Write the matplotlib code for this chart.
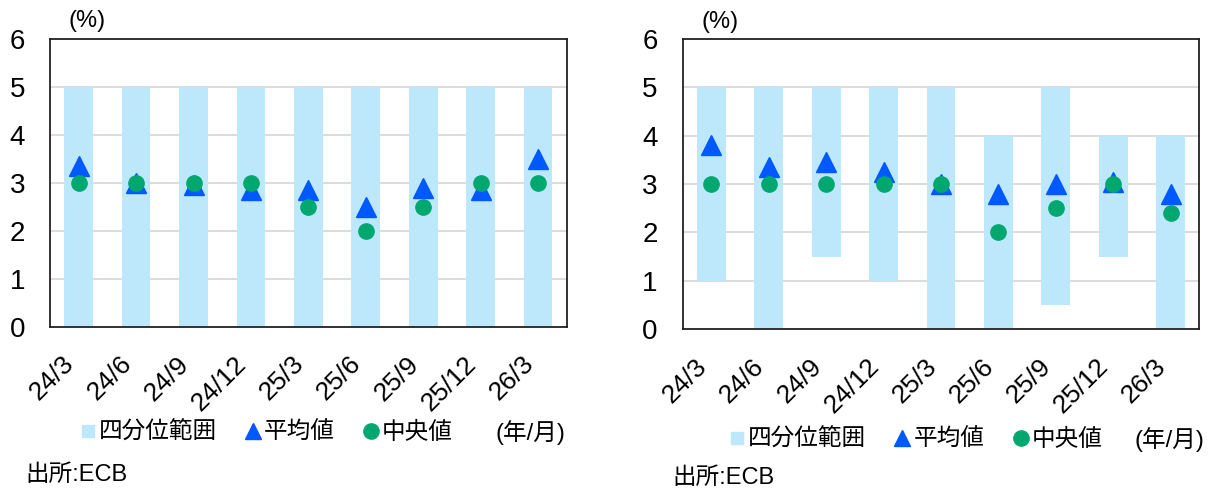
import matplotlib
matplotlib.use("Agg")
import matplotlib.pyplot as plt
from matplotlib.lines import Line2D

plt.rcParams['font.family'] = ['Liberation Sans', 'Noto Sans CJK JP']

# データ
labels = ['24/3', '24/6', '24/9', '24/12', '25/3', '25/6', '25/9', '25/12', '26/3']

left_q1 = [0, 0, 0, 0, 0, 0, 0, 0, 0]
left_q3 = [5, 5, 5, 5, 5, 5, 5, 5, 5]
left_mean = [3.35, 3.0, 2.95, 2.85, 2.85, 2.5, 2.9, 2.85, 3.5]
left_median = [3.0, 3.0, 3.0, 3.0, 2.5, 2.0, 2.5, 3.0, 3.0]

right_q1 = [1, 0, 1.5, 1, 0, 0, 0.5, 1.5, 0]
right_q3 = [5, 5, 5, 5, 5, 4, 5, 4, 4]
right_mean = [3.8, 3.35, 3.45, 3.25, 3.0, 2.8, 3.0, 3.05, 2.8]
right_median = [3.0, 3.0, 3.0, 3.0, 3.0, 2.0, 2.5, 3.0, 2.4]

BAR_C = '#bde7fb'
MEAN_C = '#0058ff'
MED_C = '#00a870'
FS = 17

W, H = 1211, 488
fig = plt.figure(figsize=(W / 100, H / 100), dpi=100)


def px(x0, y0, x1, y1):
    # ピクセル座標 -> figure座標
    return [x0 / W, 1 - y1 / H, (x1 - x0) / W, (y1 - y0) / H]


def draw(rect, q1, q3, mean, median):
    ax = fig.add_axes(rect)
    x = range(len(labels))
    heights = [b - a for a, b in zip(q1, q3)]
    ax.bar(x, heights, bottom=q1, width=0.5, color=BAR_C, zorder=2)
    ax.plot(x, mean, ls='none', marker='^', ms=14.5, color=MEAN_C, zorder=3)
    ax.plot(x, median, ls='none', marker='o', ms=11, color=MED_C, zorder=4)
    ax.set_xlim(-0.5, len(labels) - 0.5)
    ax.set_ylim(0, 6)
    ax.set_yticks(range(7))
    ax.set_xticks(list(x))
    ax.set_xticklabels(labels, rotation=45, ha='right', va='top', fontsize=19)
    ax.tick_params(axis='y', labelsize=20, length=0, pad=18)
    ax.tick_params(axis='x', length=0, pad=18)
    ax.grid(axis='y', color='#d9d9d9', lw=1.3, zorder=1)
    ax.set_axisbelow(True)
    for s in ax.spines.values():
        s.set_color('#222222')
        s.set_linewidth(1.3)
    return ax


draw(px(50, 39, 566.7, 326.7), left_q1, left_q3, left_mean, left_median)
draw(px(682.7, 38.7, 1199.3, 329.3), right_q1, right_q3, right_mean, right_median)

handles = [
    Line2D([], [], ls='none', marker='s', ms=8, color=BAR_C),
    Line2D([], [], ls='none', marker='^', ms=12, color=MEAN_C),
    Line2D([], [], ls='none', marker='o', ms=11, color=MED_C),
]
names = ['四分位範囲', '平均値', '中央値']

for lx, ux, y, tx, ty, sx, sy in [(80.6, 495.6, 433, 68.9, 21, 24.9, 475),
                                   (730, 1134.7, 440, 701.7, 22, 672.8, 478)]:
    fig.legend(handles, names, loc='center left', bbox_to_anchor=(lx / W, 1 - y / H),
               ncol=3, frameon=False, fontsize=FS, handlelength=0.6,
               handletextpad=0.17, columnspacing=1.23, borderpad=0, borderaxespad=0)
    fig.text(ux / W, 1 - y / H, '(年/月)', fontsize=FS, va='center', ha='left')
    fig.text(tx / W, 1 - ty / H, '(%)', fontsize=FS, va='center', ha='left')
    fig.text(sx / W, 1 - sy / H, '出所:ECB', fontsize=FS, va='center', ha='left')

fig.savefig('out.png', dpi=100)
